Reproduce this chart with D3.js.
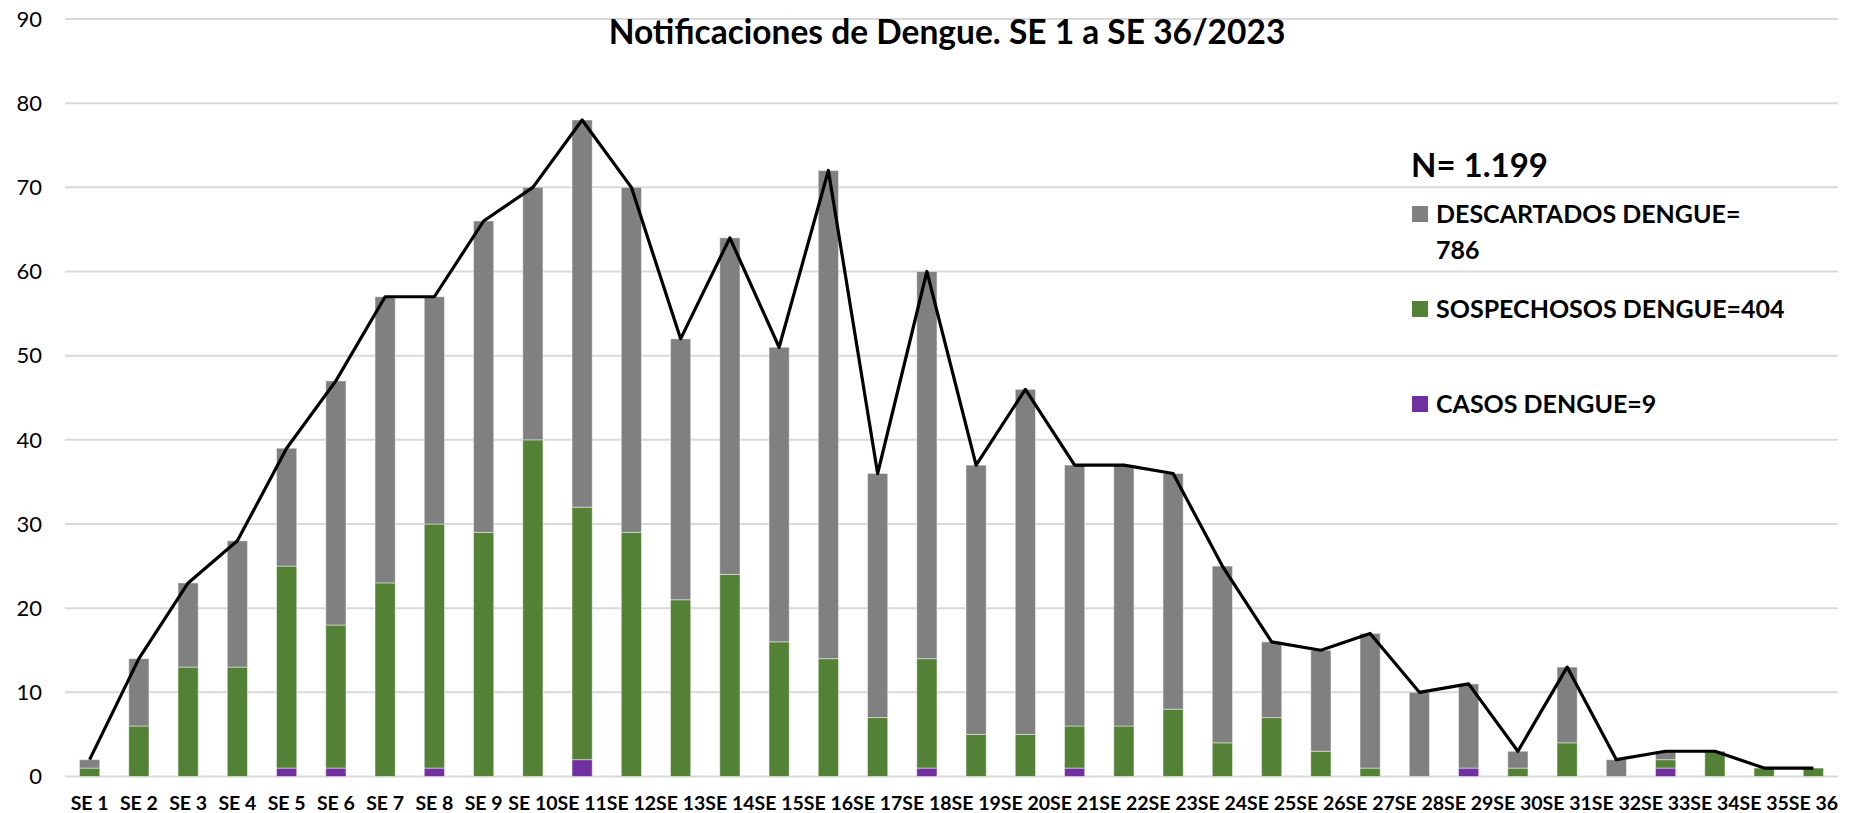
<!DOCTYPE html>
<html lang="es">
<head>
  <meta charset="UTF-8">
  <title>Notificaciones de Dengue</title>
  <script src="https://d3js.org/d3.v7.min.js"></script>
  <style>
    body { margin: 0; background: #fff; }
    text { font-family: Lato, "Open Sans", sans-serif; fill: #000; }
    .grid line { stroke: #d9d9d9; stroke-width: 2px; }
    .ylab { font-size: 22px; }
    .xlab { font-size: 19.5px; font-weight: bold; }
    .title { font-size: 33.5px; font-weight: bold; }
    .legend text { font-weight: bold; font-size: 25px; }
  </style>
</head>
<body>
  <script>
    // semanas epidemiologicas
    const weeks = ['SE 1', 'SE 2', 'SE 3', 'SE 4', 'SE 5', 'SE 6', 'SE 7', 'SE 8', 'SE 9', 'SE 10',
      'SE 11', 'SE 12', 'SE 13', 'SE 14', 'SE 15', 'SE 16', 'SE 17', 'SE 18', 'SE 19', 'SE 20',
      'SE 21', 'SE 22', 'SE 23', 'SE 24', 'SE 25', 'SE 26', 'SE 27', 'SE 28', 'SE 29', 'SE 30',
      'SE 31', 'SE 32', 'SE 33', 'SE 34', 'SE 35', 'SE 36'];

    const casos = [0, 0, 0, 0, 1, 1, 0, 1, 0, 0, 2, 0, 0, 0, 0, 0, 0, 1, 0, 0,
      1, 0, 0, 0, 0, 0, 0, 0, 1, 0, 0, 0, 1, 0, 0, 0];
    const sospechosos = [1, 6, 13, 13, 24, 17, 23, 29, 29, 40, 30, 29, 21, 24, 16, 14, 7, 13, 5, 5,
      5, 6, 8, 4, 7, 3, 1, 0, 0, 1, 4, 0, 1, 3, 1, 1];
    const descartados = [1, 8, 10, 15, 14, 29, 34, 27, 37, 30, 46, 41, 31, 40, 35, 58, 29, 46, 32, 41,
      31, 31, 28, 21, 9, 12, 16, 10, 10, 2, 9, 2, 1, 0, 0, 0];

    const yTicks = [0, 10, 20, 30, 40, 50, 60, 70, 80, 90];

    const seriesKeys = ['casos', 'sospechosos', 'descartados'];
    const colors = { casos: '#7030a0', sospechosos: '#538135', descartados: '#808080' };

    const legendItems = [
      { key: 'descartados', lines: ['DESCARTADOS DENGUE=', '786'] },
      { key: 'sospechosos', lines: ['SOSPECHOSOS DENGUE=404'] },
      { key: 'casos', lines: ['CASOS DENGUE=9'] }
    ];

    const width = 1865, height = 813;
    const plotLeft = 65, plotRight = 1838, plotTop = 19, plotBottom = 776.5;

    const rows = weeks.map((w, i) => ({
      week: w,
      casos: casos[i],
      sospechosos: sospechosos[i],
      descartados: descartados[i]
    }));
    rows.forEach(d => { d.total = d.casos + d.sospechosos + d.descartados; });

    const svg = d3.select('body').append('svg')
      .attr('width', width)
      .attr('height', height);

    svg.append('rect').attr('width', width).attr('height', height).attr('fill', '#fff');

    const x = d3.scaleBand()
      .domain(weeks)
      .range([plotLeft, plotRight])
      .paddingInner(0.59)
      .paddingOuter(0.295);

    const y = d3.scaleLinear()
      .domain([0, 90])
      .range([plotBottom, plotTop]);

    // lineas de grilla
    svg.append('g')
      .attr('class', 'grid')
      .selectAll('line')
      .data(yTicks)
      .enter().append('line')
      .attr('x1', plotLeft)
      .attr('x2', plotRight)
      .attr('y1', d => y(d))
      .attr('y2', d => y(d));

    svg.append('g')
      .selectAll('text')
      .data(yTicks)
      .enter().append('text')
      .attr('class', 'ylab')
      .attr('x', 42)
      .attr('y', d => y(d))
      .attr('dy', '0.35em')
      .attr('text-anchor', 'end')
      .text(d => d);

    // barras apiladas
    const stacked = d3.stack().keys(seriesKeys)(rows);

    svg.append('g')
      .selectAll('g')
      .data(stacked)
      .enter().append('g')
      .attr('fill', d => colors[d.key])
      .selectAll('rect')
      .data(d => d.filter(s => s[1] > s[0]))
      .enter().append('rect')
      .attr('x', d => x(d.data.week))
      .attr('width', x.bandwidth())
      .attr('y', d => y(d[1]))
      .attr('height', d => y(d[0]) - y(d[1]))
      .attr('stroke', '#fff')
      .attr('stroke-opacity', 0.45)
      .attr('stroke-width', 1);

    // linea del total
    const line = d3.line()
      .x(d => x(d.week) + x.bandwidth() / 2)
      .y(d => y(d.total));

    svg.append('path')
      .datum(rows)
      .attr('fill', 'none')
      .attr('stroke', '#000')
      .attr('stroke-width', 3.2)
      .attr('stroke-linejoin', 'round')
      .attr('d', line);

    // etiquetas eje x
    svg.append('g')
      .selectAll('text')
      .data(weeks)
      .enter().append('text')
      .attr('class', 'xlab')
      .attr('x', d => x(d) + x.bandwidth() / 2)
      .attr('y', 810)
      .attr('text-anchor', 'middle')
      .text(d => d);

    svg.append('text')
      .attr('class', 'title')
      .attr('x', 947)
      .attr('y', 44)
      .attr('text-anchor', 'middle')
      .text('Notificaciones de Dengue. SE 1 a SE 36/2023');

    // leyenda
    const legend = svg.append('g').attr('class', 'legend');

    legend.append('text')
      .attr('x', 1411)
      .attr('y', 177)
      .style('font-size', '33px')
      .text('N= 1.199');

    const legendY = [214, 309, 404];
    legendItems.forEach((item, i) => {
      legend.append('rect')
        .attr('x', 1412)
        .attr('y', legendY[i] - 8)
        .attr('width', 16)
        .attr('height', 16)
        .attr('fill', colors[item.key]);
      item.lines.forEach((t, j) => {
        legend.append('text')
          .attr('x', 1436)
          .attr('y', legendY[i] + 9 + j * 36)
          .text(t);
      });
    });
  </script>
</body>
</html>
